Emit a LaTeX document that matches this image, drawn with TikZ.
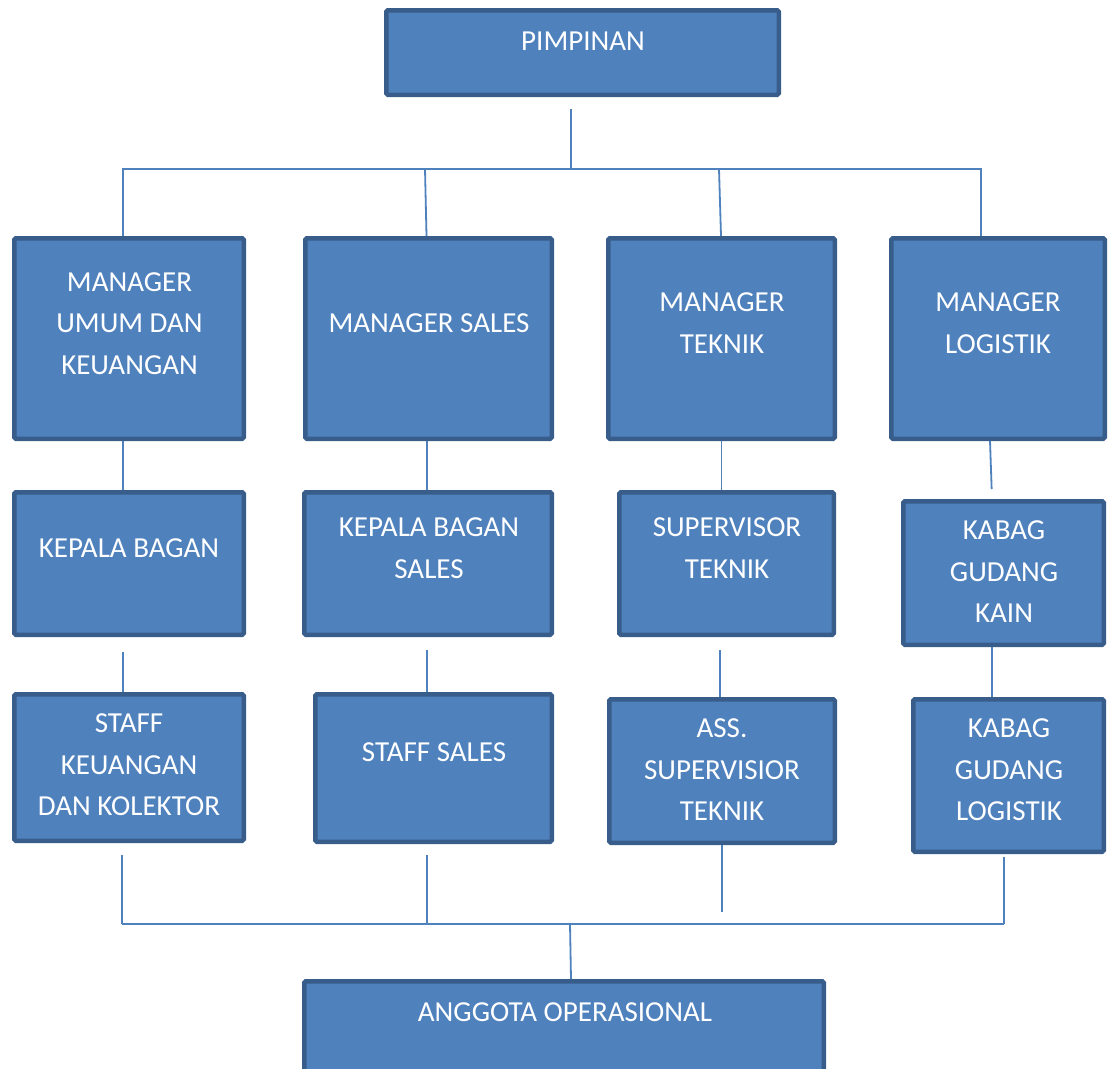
\documentclass[tikz,border=0pt]{standalone}
\usepackage{fontspec}
\setmainfont{Carlito}
\definecolor{boxfill}{HTML}{4F81BD}
\definecolor{boxline}{HTML}{385D8A}
\begin{document}
\begin{tikzpicture}[x=1pt,y=-1pt,
  orgbox/.style={draw=boxline, fill=boxfill, line width=4.5pt, rounded corners=1.5pt, inner sep=0pt},
  orgtxt/.style={text=white, align=center, inner sep=0pt, font=\fontsize{29}{41.5}\selectfont},
  conn/.style={draw=boxfill, line width=1.8pt}]
\useasboundingbox (0,0) rectangle (1110,1068);
\clip (0,0) rectangle (1110,1068);
% boxes (minimum size = outer size - line width)
\node[orgbox, minimum width=392.5, minimum height=84.5] (p) at (582.5,52.5) {};
\node[orgbox, minimum width=229.5, minimum height=200.5] (m1) at (129,338.5) {};
\node[orgbox, minimum width=246.5, minimum height=200.5] (m2) at (428.5,338.5) {};
\node[orgbox, minimum width=226.5, minimum height=200.5] (m3) at (721.5,338.5) {};
\node[orgbox, minimum width=213.5, minimum height=200.5] (m4) at (998,338.5) {};
\node[orgbox, minimum width=229.5, minimum height=142.5] (k1) at (129,563.5) {};
\node[orgbox, minimum width=247.5, minimum height=142.5] (k2) at (428,563.5) {};
\node[orgbox, minimum width=214.5, minimum height=142.5] (k3) at (726.5,563.5) {};
\node[orgbox, minimum width=200.5, minimum height=143.5] (k4) at (1003.5,573) {};
\node[orgbox, minimum width=229.5, minimum height=146.5] (s1) at (129,767.5) {};
\node[orgbox, minimum width=236.5, minimum height=147.5] (s2) at (433.5,768) {};
\node[orgbox, minimum width=225.5, minimum height=143.5] (s3) at (722,771) {};
\node[orgbox, minimum width=190.5, minimum height=152.5] (s4) at (1008.5,775.5) {};
\node[orgbox, minimum width=519.5, minimum height=195.5] (ao) at (564,1079) {};
% texts
\node[orgtxt] (pt) at (583,41) {PIMPINAN};
\node[orgtxt] (m1t) at (129.5,323.5) {MANAGER\\UMUM DAN\\KEUANGAN};
\node[orgtxt] (m2t) at (429,323) {MANAGER SALES};
\node[orgtxt] (m3t) at (722,323) {MANAGER\\TEKNIK};
\node[orgtxt] (m4t) at (998,323) {MANAGER\\LOGISTIK};
\node[orgtxt] (k1t) at (129,548) {KEPALA BAGAN};
\node[orgtxt] (k2t) at (429,548) {KEPALA BAGAN\\SALES};
\node[orgtxt] (k3t) at (727,548) {SUPERVISOR\\TEKNIK};
\node[orgtxt] (k4t) at (1004,572) {KABAG\\GUDANG\\KAIN};
\node[orgtxt] (s1t) at (129,765) {STAFF\\KEUANGAN\\DAN KOLEKTOR};
\node[orgtxt] (s2t) at (434,752) {STAFF SALES};
\node[orgtxt] (s3t) at (722,770) {ASS.\\SUPERVISIOR\\TEKNIK};
\node[orgtxt] (s4t) at (1009,770) {KABAG\\GUDANG\\LOGISTIK};
\node[orgtxt] (aot) at (565,1012) {ANGGOTA OPERASIONAL};
% bus coordinates
\coordinate (bus1) at (571,169);
\coordinate (bus2) at (570,924);
% top connectors
\draw[conn, shorten <=12pt] (p.south -| bus1) -- (bus1);
\draw[conn] ([xshift=-6pt]m1.north) |- ([xshift=-17pt]m4.north |- bus1) -- ([xshift=-17pt]m4.north);
\draw[conn] ([xshift=-2pt]m2.north) -- ([xshift=-3.5pt]m2.north |- bus1);
\draw[conn] ([xshift=-0.5pt]m3.north) -- ([xshift=-2.5pt]m3.north |- bus1);
% manager -> kepala
\draw[conn] ([xshift=-6pt]m1.south) -- ([xshift=-6pt]k1.north);
\draw[conn] ([xshift=-1.5pt]m2.south) -- ([xshift=-1.5pt]m2.south |- k2.north);
\draw[conn] (m3.south) -- (m3.south |- k3.north);
\draw[conn, shorten >=10pt] ([xshift=-8pt]m4.south) -- ([xshift=-6pt]m4.south |- k4.north);
% kepala -> staff
\draw[conn, shorten <=15pt] ([xshift=-6pt]k1.south) -- ([xshift=-6pt]k1.south |- s1.north);
\draw[conn, shorten <=13pt] ([xshift=-1pt]k2.south) -- ([xshift=-1pt]k2.south |- s2.north);
\draw[conn, shorten <=13pt] ([xshift=-6.5pt]k3.south) -- ([xshift=-6.5pt]k3.south |- s3.north);
\draw[conn] ([xshift=-11.5pt]k4.south) -- ([xshift=-11.5pt]k4.south |- s4.north);
% staff -> bottom bus
\draw[conn, shorten <=12pt] ([xshift=-7pt]s1.south) -- ([xshift=-7pt]s1.south |- bus2);
\draw[conn, shorten <=11pt] ([xshift=-6.5pt]s2.south) -- ([xshift=-6.5pt]s2.south |- bus2);
\draw[conn, shorten >=12pt] (s3.south) -- (s3.south |- bus2);
\draw[conn, shorten <=3pt] ([xshift=-4.5pt]s4.south) -- ([xshift=-4.5pt]s4.south |- bus2);
\draw[conn] ([xshift=-7pt]s1.south |- bus2) -- ([xshift=-4.5pt]s4.south |- bus2);
\draw[conn] (bus2) -- ([xshift=7pt]ao.north);
\end{tikzpicture}
\end{document}
